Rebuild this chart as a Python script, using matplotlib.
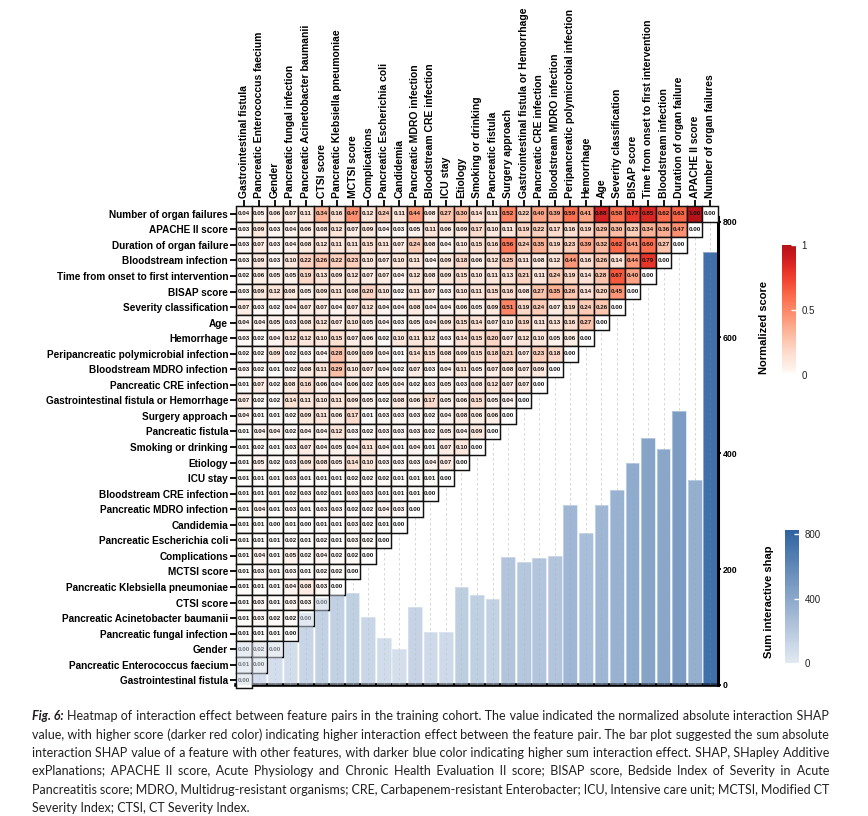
import numpy as np
import matplotlib
matplotlib.use("Agg")
import matplotlib.pyplot as plt
from matplotlib.colors import LinearSegmentedColormap, Normalize
from matplotlib.patches import Rectangle
from matplotlib.cm import ScalarMappable

# ---------------- data ----------------
features = [
    "Number of organ failures", "APACHE II score", "Duration of organ failure",
    "Bloodstream infection", "Time from onset to first intervention", "BISAP score",
    "Severity classification", "Age", "Hemorrhage",
    "Peripancreatic polymicrobial infection", "Bloodstream MDRO infection",
    "Pancreatic CRE infection", "Gastrointestinal fistula or Hemorrhage",
    "Surgery approach", "Pancreatic fistula", "Smoking or drinking", "Etiology",
    "ICU stay", "Bloodstream CRE infection", "Pancreatic MDRO infection",
    "Candidemia", "Pancreatic Escherichia coli", "Complications", "MCTSI score",
    "Pancreatic Klebsiella pneumoniae", "CTSI score",
    "Pancreatic Acinetobacter baumanii", "Pancreatic fungal infection", "Gender",
    "Pancreatic Enterococcus faecium", "Gastrointestinal fistula",
]
column_labels = features[::-1]

interaction_rows = [
    [0.04, 0.05, 0.06, 0.07, 0.11, 0.34, 0.16, 0.47, 0.12, 0.24, 0.11, 0.44, 0.08, 0.27, 0.30, 0.14, 0.11, 0.52, 0.22, 0.40, 0.39, 0.59, 0.41, 0.88, 0.58, 0.77, 0.85, 0.62, 0.63, 1.00, 0.00],
    [0.03, 0.09, 0.03, 0.04, 0.06, 0.08, 0.12, 0.07, 0.09, 0.04, 0.03, 0.05, 0.11, 0.06, 0.09, 0.17, 0.10, 0.11, 0.19, 0.22, 0.17, 0.16, 0.19, 0.29, 0.30, 0.23, 0.34, 0.36, 0.47, 0.00],
    [0.03, 0.07, 0.03, 0.04, 0.08, 0.12, 0.11, 0.11, 0.15, 0.11, 0.07, 0.24, 0.08, 0.04, 0.10, 0.15, 0.16, 0.56, 0.24, 0.35, 0.19, 0.23, 0.39, 0.32, 0.62, 0.41, 0.60, 0.27, 0.00],
    [0.03, 0.09, 0.03, 0.10, 0.22, 0.26, 0.22, 0.23, 0.10, 0.07, 0.10, 0.11, 0.04, 0.09, 0.18, 0.06, 0.12, 0.25, 0.11, 0.08, 0.12, 0.44, 0.16, 0.26, 0.14, 0.44, 0.79, 0.00],
    [0.02, 0.06, 0.05, 0.05, 0.19, 0.13, 0.09, 0.12, 0.07, 0.07, 0.04, 0.12, 0.08, 0.09, 0.15, 0.10, 0.11, 0.13, 0.21, 0.11, 0.24, 0.19, 0.14, 0.28, 0.67, 0.40, 0.00],
    [0.03, 0.09, 0.12, 0.08, 0.05, 0.09, 0.11, 0.08, 0.20, 0.10, 0.02, 0.11, 0.07, 0.03, 0.10, 0.11, 0.15, 0.16, 0.08, 0.27, 0.35, 0.26, 0.14, 0.20, 0.45, 0.00],
    [0.07, 0.03, 0.02, 0.04, 0.07, 0.07, 0.04, 0.07, 0.12, 0.04, 0.04, 0.08, 0.04, 0.04, 0.06, 0.05, 0.09, 0.51, 0.19, 0.24, 0.07, 0.19, 0.24, 0.26, 0.00],
    [0.04, 0.04, 0.05, 0.03, 0.08, 0.12, 0.07, 0.10, 0.05, 0.04, 0.03, 0.05, 0.04, 0.09, 0.15, 0.14, 0.07, 0.10, 0.19, 0.11, 0.13, 0.16, 0.27, 0.00],
    [0.03, 0.02, 0.04, 0.12, 0.12, 0.10, 0.15, 0.07, 0.06, 0.02, 0.10, 0.11, 0.12, 0.03, 0.14, 0.15, 0.20, 0.07, 0.12, 0.10, 0.05, 0.06, 0.00],
    [0.02, 0.02, 0.09, 0.02, 0.03, 0.04, 0.28, 0.09, 0.09, 0.04, 0.01, 0.14, 0.15, 0.08, 0.09, 0.15, 0.18, 0.21, 0.07, 0.23, 0.18, 0.00],
    [0.03, 0.02, 0.01, 0.02, 0.08, 0.11, 0.29, 0.10, 0.07, 0.04, 0.02, 0.07, 0.03, 0.04, 0.11, 0.05, 0.07, 0.08, 0.07, 0.09, 0.00],
    [0.01, 0.07, 0.02, 0.08, 0.16, 0.06, 0.04, 0.06, 0.02, 0.05, 0.04, 0.02, 0.03, 0.05, 0.03, 0.08, 0.12, 0.07, 0.07, 0.00],
    [0.07, 0.02, 0.02, 0.14, 0.11, 0.10, 0.11, 0.09, 0.05, 0.02, 0.08, 0.06, 0.17, 0.05, 0.06, 0.15, 0.05, 0.04, 0.00],
    [0.04, 0.01, 0.01, 0.02, 0.09, 0.11, 0.06, 0.17, 0.01, 0.03, 0.03, 0.03, 0.02, 0.04, 0.08, 0.06, 0.06, 0.00],
    [0.01, 0.04, 0.04, 0.02, 0.04, 0.04, 0.12, 0.03, 0.02, 0.03, 0.03, 0.03, 0.02, 0.05, 0.04, 0.09, 0.00],
    [0.01, 0.02, 0.01, 0.03, 0.07, 0.04, 0.05, 0.04, 0.11, 0.04, 0.01, 0.04, 0.01, 0.07, 0.10, 0.00],
    [0.01, 0.05, 0.02, 0.03, 0.09, 0.08, 0.05, 0.14, 0.10, 0.03, 0.03, 0.03, 0.04, 0.07, 0.00],
    [0.01, 0.01, 0.01, 0.03, 0.01, 0.01, 0.01, 0.02, 0.02, 0.02, 0.01, 0.01, 0.01, 0.00],
    [0.01, 0.01, 0.01, 0.02, 0.03, 0.02, 0.01, 0.03, 0.03, 0.01, 0.01, 0.01, 0.00],
    [0.01, 0.04, 0.01, 0.03, 0.01, 0.03, 0.03, 0.02, 0.02, 0.04, 0.03, 0.00],
    [0.01, 0.01, 0.00, 0.01, 0.00, 0.01, 0.01, 0.03, 0.02, 0.01, 0.00],
    [0.01, 0.01, 0.01, 0.02, 0.01, 0.02, 0.01, 0.03, 0.02, 0.00],
    [0.01, 0.04, 0.01, 0.05, 0.02, 0.04, 0.02, 0.02, 0.00],
    [0.01, 0.03, 0.01, 0.03, 0.01, 0.02, 0.02, 0.00],
    [0.01, 0.01, 0.01, 0.04, 0.08, 0.03, 0.00],
    [0.01, 0.03, 0.01, 0.03, 0.03, 0.00],
    [0.01, 0.03, 0.02, 0.02, 0.00],
    [0.01, 0.01, 0.01, 0.00],
    [0.00, 0.02, 0.00],
    [0.01, 0.00],
    [0.00],
]

# sum interactive SHAP per column (left to right = column_labels)
sum_shap = [72, 73, 74, 75, 125, 150, 155, 158, 118, 82, 63, 134, 91, 91, 170,
            156, 149, 221, 212, 220, 222, 311, 263, 310, 337, 384, 427, 408, 473,
            354, 748]

bar_ticks = [0, 200, 400, 600, 800]
score_ticks = [0, 0.5, 1]
score_tick_labels = ["0", "0.5", "1"]
shap_cb_ticks = [0, 400, 800]

caption_lead = "Fig. 6:"
caption_lines = [
    "Heatmap of interaction effect between feature pairs in the training cohort. The value indicated the normalized absolute interaction SHAP",
    "value, with higher score (darker red color) indicating higher interaction effect between the feature pair. The bar plot suggested the sum absolute",
    "interaction SHAP value of a feature with other features, with darker blue color indicating higher sum interaction effect. SHAP, SHapley Additive",
    "exPlanations; APACHE II score, Acute Physiology and Chronic Health Evaluation II score; BISAP score, Bedside Index of Severity in Acute",
    "Pancreatitis score; MDRO, Multidrug-resistant organisms; CRE, Carbapenem-resistant Enterobacter; ICU, Intensive care unit; MCTSI, Modified CT",
    "Severity Index; CTSI, CT Severity Index.",
]

# ---------------- styling ----------------
LAB_FONT = "Liberation Sans"
CAP_FAM = ["Lato", "DejaVu Sans"]
W, H = 868, 816

reds = [plt.cm.Reds(x) for x in np.linspace(0, 0.82, 16)]
reds[0] = (1, 1, 1, 1)
cmap_red = LinearSegmentedColormap.from_list("score", reds)
cmap_blue = LinearSegmentedColormap.from_list("shap", ["#e2e9f2", "#2f63a1"])
shap_norm = Normalize(0, 827)

fig = plt.figure(figsize=(W / 100, H / 100), dpi=100)
fig.patch.set_facecolor("white")


def px(x0, y0, x1, y1):
    return [x0 / W, 1 - y1 / H, (x1 - x0) / W, (y1 - y0) / H]


n = len(features)
cell = 15.55
hx0, hy0 = 236, 206
hx1, hy1 = hx0 + n * cell, hy0 + n * cell
bar_top, bar_bot = 217, 685
bar_ymax = 808

ax_bar = fig.add_axes(px(hx0, bar_top, hx1, bar_bot), zorder=1)
ax_heat = fig.add_axes(px(hx0, hy0, hx1, hy1), zorder=2)
ax_ovl = fig.add_axes(px(hx0, bar_top, hx1, bar_bot), zorder=3)

# ---- bars (behind) ----
xc = np.arange(n) + 0.5
bar_colors = [cmap_blue(shap_norm(v)) for v in sum_shap]
ax_bar.bar(xc, sum_shap, width=0.88, color=bar_colors, edgecolor="#e8eef5",
           linewidth=0.6, zorder=2)
for x in xc:
    ax_bar.axvline(x, color="#9a9a9a", lw=0.6, ls=(0, (3, 3)), alpha=0.45, zorder=3)
ax_bar.set_xlim(0, n)
ax_bar.set_ylim(0, bar_ymax)
ax_bar.spines["top"].set_visible(False)
ax_bar.spines["left"].set_visible(False)
ax_bar.spines["right"].set_linewidth(2.2)
ax_bar.spines["bottom"].set_linewidth(2.6)
ax_bar.yaxis.tick_right()
ax_bar.set_yticks(bar_ticks)
ax_bar.set_yticklabels([str(t) for t in bar_ticks], fontsize=6.3,
                       fontweight="bold", family=LAB_FONT)
ax_bar.tick_params(axis="y", direction="inout", length=4.5, width=1.3, pad=1)
ax_bar.set_xticks([])

# ---- heatmap ----
ax_heat.set_xlim(0, n)
ax_heat.set_ylim(n, 0)
ax_heat.patch.set_alpha(0)
for s in ax_heat.spines.values():
    s.set_visible(False)
for i, row in enumerate(interaction_rows):
    for j, v in enumerate(row):
        ax_heat.add_patch(Rectangle((j, i), 1, 1, facecolor=cmap_red(v),
                                    edgecolor="#111111", lw=1.05, clip_on=False))
        ax_heat.text(j + 0.5, i + 0.5, f"{v:.2f}", ha="center", va="center",
                     fontsize=4.5, fontweight="bold", color="#111111",
                     family=LAB_FONT)
ax_heat.set_yticks(np.arange(n) + 0.5)
ax_heat.set_yticklabels(features, fontsize=7.2, fontweight="bold", family=LAB_FONT)
ax_heat.xaxis.tick_top()
ax_heat.set_xticks(np.arange(n) + 0.5)
ax_heat.set_xticklabels(column_labels, rotation=90, fontsize=7.5,
                        fontweight="bold", family=LAB_FONT)
ax_heat.tick_params(axis="both", length=4.5, width=1.3, pad=1.2)

# ---- translucent overlay of bars ----
ax_ovl.bar(xc, sum_shap, width=0.88, color=bar_colors, alpha=0.5, linewidth=0)
ax_ovl.set_xlim(0, n)
ax_ovl.set_ylim(0, bar_ymax)
ax_ovl.axis("off")

# ---- colorbars ----
cax1 = fig.add_axes(px(782, 245, 796, 375))
cb1 = fig.colorbar(ScalarMappable(Normalize(0, 1), cmap_red), cax=cax1,
                   ticks=score_ticks)
cb1.ax.set_yticklabels(score_tick_labels, family=LAB_FONT)
cb1.outline.set_visible(False)
cax1.tick_params(direction="in", color="white", length=3.5, width=1,
                 labelsize=7, labelcolor="#222222", pad=4)

cax2 = fig.add_axes(px(785, 530, 799, 663))
cb2 = fig.colorbar(ScalarMappable(shap_norm, cmap_blue), cax=cax2,
                   ticks=shap_cb_ticks)
cb2.ax.set_yticklabels([str(t) for t in shap_cb_ticks], family=LAB_FONT)
cb2.outline.set_visible(False)
cax2.tick_params(direction="in", color="white", length=3.5, width=1,
                 labelsize=7, labelcolor="#222222", pad=4)

fig.text(764 / W, 1 - 327 / H, "Normalized score", rotation=90, ha="center",
         va="center", fontsize=8, fontweight="bold", family=LAB_FONT)
fig.text(769 / W, 1 - 602 / H, "Sum interactive shap", rotation=90, ha="center",
         va="center", fontsize=8, fontweight="bold", family=LAB_FONT)

# ---- caption (justified, one text object per line) ----
renderer = fig.canvas.get_renderer()
LEAD_STYLE = dict(fontweight="bold", fontstyle="italic")
HAIR = "\u200a"


def text_width(s, fs, **kw):
    t = fig.text(0, 0, s, fontsize=fs, family=CAP_FAM, **kw)
    w = t.get_window_extent(renderer=renderer).width
    t.remove()
    return w


cap_x0, cap_x1 = 32, 829
box_w = cap_x1 - cap_x0
base0, line_step = 720.5, 18.3
cap_color = "#231f20"


def line_parts(k, fs):
    words = caption_lines[k].split(" ")
    widths = [text_width(wd, fs) for wd in words]
    if k == 0:
        words = [caption_lead] + words
        widths = [text_width(caption_lead, fs, **LEAD_STYLE)] + widths
    return words, widths


def min_gap_ratio(fs):
    sp = text_width("a a", fs) - text_width("aa", fs)
    worst = 10
    for k in range(len(caption_lines) - 1):
        words, widths = line_parts(k, fs)
        worst = min(worst, (box_w - sum(widths)) / (len(words) - 1) / sp)
    return worst


first_full = caption_lead + " " + caption_lines[0]
fs = 10 * box_w * 0.99 / text_width(first_full, 10)
while min_gap_ratio(fs) < 0.55:
    fs *= 0.99

space_w = text_width("a a", fs) - text_width("aa", fs)
hair_w = (text_width("a" + HAIR * 20 + "a", fs) - text_width("aa", fs)) / 20

for k in range(len(caption_lines)):
    yb = round(base0 + k * line_step)
    words, widths = line_parts(k, fs)
    last = k == len(caption_lines) - 1
    if last or hair_w < 0.2:
        gap = space_w if last else (box_w - sum(widths)) / (len(words) - 1)
        if last:
            fig.text(cap_x0 / W, 1 - yb / H, caption_lines[k], ha="left",
                     va="baseline", fontsize=fs, family=CAP_FAM, color=cap_color)
            continue
    gap = (box_w - sum(widths)) / (len(words) - 1)
    start = 0
    x_text = cap_x0
    if k == 0:
        fig.text(cap_x0 / W, 1 - yb / H, words[0], ha="left", va="baseline",
                 fontsize=fs, family=CAP_FAM, color=cap_color, **LEAD_STYLE)
        x_text = cap_x0 + widths[0] + gap
        start = 1
    # build the justified string for the remaining words
    s = words[start]
    cur = x_text + widths[start]
    target = x_text + widths[start]
    for wd, wdt in zip(words[start + 1:], widths[start + 1:]):
        target += gap
        need = target - cur
        if need >= space_w:
            m = max(0, int(round((need - space_w) / hair_w)))
            sep = " " + HAIR * m
            cur += space_w + m * hair_w
        else:
            m = max(1, int(round(need / hair_w)))
            sep = HAIR * m
            cur += m * hair_w
        s += sep + wd
        cur += wdt
        target += wdt
    fig.text(x_text / W, 1 - yb / H, s, ha="left", va="baseline", fontsize=fs,
             family=CAP_FAM, color=cap_color)

fig.savefig("out.png", dpi=100, facecolor="white")
